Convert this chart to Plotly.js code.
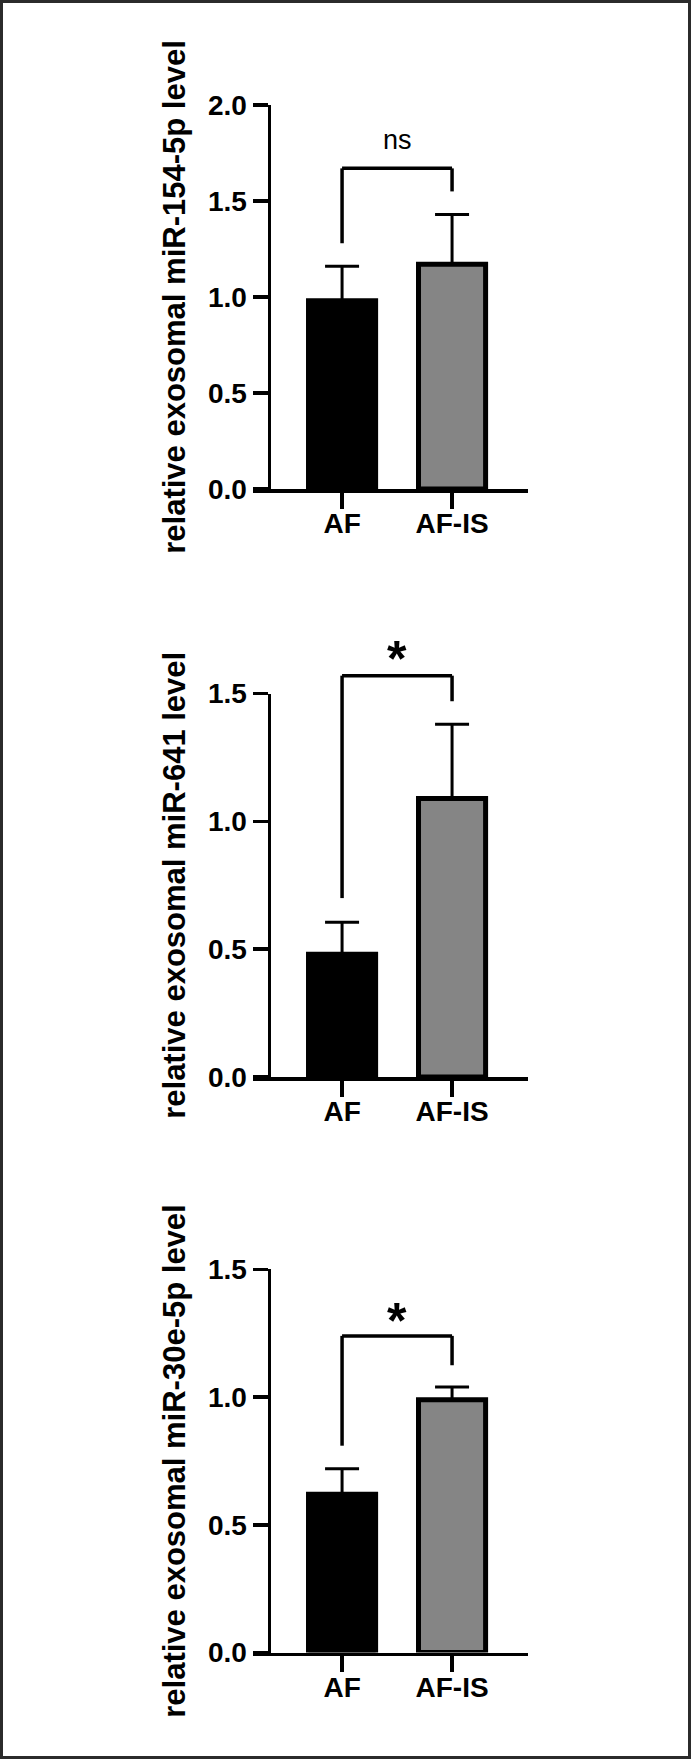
<!DOCTYPE html>
<html>
<head>
<meta charset="utf-8">
<script src="https://cdn.plot.ly/plotly-3.0.1.min.js"></script>
<style>
  html, body { margin: 0; padding: 0; background: #fff; overflow: hidden; }
  #chart { width: 691px; height: 1759px; }
  #frame {
    position: absolute; left: 0; top: 0; width: 691px; height: 1759px;
    box-sizing: border-box; border: 3px solid #2b2b2b; pointer-events: none;
  }
</style>
</head>
<body>
<div id="chart"></div>
<div id="frame"></div>
<script>
// groups on the x axis
const categories = ['AF', 'AF-IS'];
const barColors = ['#000000', '#858585'];

// mean and SD
const mir154Mean = [0.98, 1.17];
const mir154Sd = [0.18, 0.26];
const mir641Mean = [0.48, 1.09];
const mir641Sd = [0.125, 0.29];
const mir30eMean = [0.62, 0.99];
const mir30eSd = [0.10, 0.05];

const panelTitles = [
    'relative exosomal miR-154-5p level',
    'relative exosomal miR-641 level',
    'relative exosomal miR-30e-5p level'
];
const yMax = [2.0, 1.5, 1.5];

// significance brackets (in y units of each panel)
const sigLabels = ['ns', '*', '*'];
const bracketTop = [1.67, 1.57, 1.24];
const bracketLeftEnd = [1.28, 0.70, 0.81];
const bracketRightEnd = [1.55, 1.47, 1.125];
const sigLabelY = [1.82, 1.635, 1.30];

const means = [mir154Mean, mir641Mean, mir30eMean];
const sds = [mir154Sd, mir641Sd, mir30eSd];

const FONT = 'Liberation Sans, Arial, sans-serif';
const yDomains = [[0.7220, 0.9403], [0.3877, 0.6057], [0.0605, 0.2783]];

const traces = [];
const layout = {
    width: 691,
    height: 1759,
    margin: { l: 0, r: 0, t: 0, b: 0 },
    paper_bgcolor: '#fff',
    plot_bgcolor: 'rgba(0,0,0,0)',
    showlegend: false,
    font: { family: FONT, color: '#000' },
    shapes: [],
    annotations: []
};

for (let i = 0; i < 3; i++) {
    const n = i === 0 ? '' : String(i + 1);
    const xName = 'x' + n, yName = 'y' + n;

    traces.push({
        type: 'bar',
        x: categories,
        y: means[i],
        xaxis: xName,
        yaxis: yName,
        width: 0.61,
        marker: { color: barColors, line: { color: '#000', width: 5 } },
        error_y: {
            type: 'data',
            symmetric: false,
            array: sds[i],
            arrayminus: [0, 0],
            color: '#000',
            thickness: 3,
            width: 17
        },
        hoverinfo: 'skip'
    });

    layout['xaxis' + n] = {
        domain: [0.3661, 0.7634],
        anchor: yName,
        type: 'category',
        range: [-0.81, 1.686],
        showline: true,
        linewidth: 3.5,
        linecolor: '#000',
        ticks: 'outside',
        ticklen: 16,
        tickwidth: 3.5,
        tickcolor: '#000',
        ticklabelstandoff: -9,
        tickfont: { family: FONT, size: 28, weight: 700, color: '#000' },
        showgrid: false,
        zeroline: false,
        fixedrange: true
    };

    layout['yaxis' + n] = {
        domain: yDomains[i],
        anchor: 'free',
        position: 0.3886,
        range: [0, yMax[i]],
        tick0: 0,
        dtick: 0.5,
        tickformat: '.1f',
        showline: true,
        linewidth: 3.5,
        linecolor: '#000',
        ticks: 'outside',
        ticklen: 15,
        tickwidth: 3.5,
        tickcolor: '#000',
        tickfont: { family: FONT, size: 28, weight: 700, color: '#000' },
        showgrid: false,
        zeroline: false,
        fixedrange: true,
        title: {
            text: panelTitles[i],
            font: { family: FONT, size: 31, weight: 700, color: '#000' },
            standoff: 11
        }
    };

    // bracket drawn in y-domain units so it can rise above the axis top
    const yref = yName + ' domain';
    const f = v => v / yMax[i];
    const line = { color: '#000', width: 3.5 };
    layout.shapes.push(
        { type: 'line', xref: xName, yref: yref, x0: 0, x1: 1, y0: f(bracketTop[i]), y1: f(bracketTop[i]), line: line },
        { type: 'line', xref: xName, yref: yref, x0: 0, x1: 0, y0: f(bracketLeftEnd[i]), y1: f(bracketTop[i]), line: line },
        { type: 'line', xref: xName, yref: yref, x0: 1, x1: 1, y0: f(bracketRightEnd[i]), y1: f(bracketTop[i]), line: line }
    );

    const isNs = sigLabels[i] === 'ns';
    layout.annotations.push({
        xref: xName,
        yref: yref,
        x: 0.5,
        y: f(sigLabelY[i]),
        text: sigLabels[i],
        showarrow: false,
        xanchor: 'center',
        yanchor: 'middle',
        font: { family: FONT, size: isNs ? 27 : 50, weight: isNs ? 400 : 700, color: '#000' }
    });
}

Plotly.newPlot('chart', traces, layout, { staticPlot: true, displayModeBar: false });
</script>
</body>
</html>
